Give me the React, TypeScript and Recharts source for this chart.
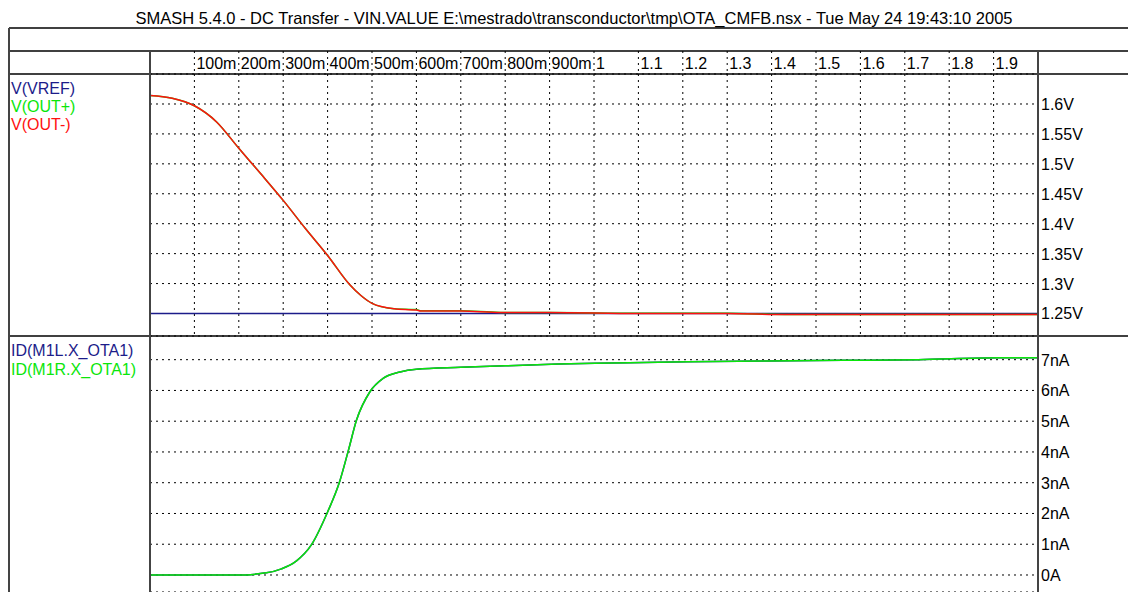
import { CartesianGrid, Line, LineChart, XAxis, YAxis } from "recharts";

const FONT = "'Liberation Sans', Arial, sans-serif";

// DC sweep of VIN.VALUE (V)
const sweepTop = [0, 0.05, 0.1, 0.15, 0.2, 0.25, 0.3, 0.35, 0.4, 0.45, 0.475, 0.5, 0.55, 0.6, 0.61, 0.7, 0.79, 0.9, 1.1, 1.3, 1.43, 1.6, 1.8, 1.9, 2.0];
const vVref = [1.25, 1.25, 1.25, 1.25, 1.25, 1.25, 1.25, 1.25, 1.25, 1.25, 1.25, 1.25, 1.25, 1.25, 1.25, 1.25, 1.25, 1.25, 1.25, 1.25, 1.25, 1.25, 1.25, 1.25, 1.25];
const vOutPlus = [1.614, 1.6095, 1.597, 1.57, 1.526, 1.483, 1.439, 1.392, 1.347, 1.298, 1.28, 1.267, 1.258, 1.2565, 1.2545, 1.2545, 1.2518, 1.2518, 1.2502, 1.2502, 1.2483, 1.2483, 1.2483, 1.2483, 1.2483];
const vOutMinus = [1.614, 1.6095, 1.597, 1.57, 1.526, 1.483, 1.439, 1.392, 1.347, 1.298, 1.28, 1.267, 1.258, 1.2557, 1.254, 1.254, 1.2517, 1.2517, 1.25, 1.25, 1.2483, 1.2483, 1.2483, 1.2483, 1.2483];

const sweepBottom = [0, 0.1, 0.2, 0.262, 0.296, 0.33, 0.363, 0.4, 0.427, 0.447, 0.465, 0.495, 0.525, 0.563, 0.6, 0.7, 0.8, 0.92, 1.04, 1.21, 1.39, 1.56, 1.73, 1.91, 2.0];
const idM1L = [0, 0, 0, 0.07, 0.2, 0.46, 0.97, 2.05, 3.03, 4.06, 5.03, 5.95, 6.39, 6.6, 6.69, 6.75, 6.8, 6.86, 6.89, 6.93, 6.96, 6.98, 7.0, 7.06, 7.06];
const idM1R = [0, 0, 0, 0.07, 0.2, 0.46, 0.97, 2.05, 3.03, 4.06, 5.03, 5.95, 6.39, 6.6, 6.69, 6.75, 6.8, 6.86, 6.89, 6.93, 6.96, 6.98, 7.0, 7.06, 7.06];

const xTicks = [0.1, 0.2, 0.3, 0.4, 0.5, 0.6, 0.7, 0.8, 0.9, 1.0, 1.1, 1.2, 1.3, 1.4, 1.5, 1.6, 1.7, 1.8, 1.9];
const xTickLabels = ["100m", "200m", "300m", "400m", "500m", "600m", "700m", "800m", "900m", "1", "1.1", "1.2", "1.3", "1.4", "1.5", "1.6", "1.7", "1.8", "1.9"];
const vTicks = [1.25, 1.3, 1.35, 1.4, 1.45, 1.5, 1.55, 1.6];
const vTickLabels = ["1.25V", "1.3V", "1.35V", "1.4V", "1.45V", "1.5V", "1.55V", "1.6V"];
const iTicks = [0, 1, 2, 3, 4, 5, 6, 7];
const iTickLabels = ["0A", "1nA", "2nA", "3nA", "4nA", "5nA", "6nA", "7nA"];

const BLUE = "#1c1c8a";
const GREEN = "#0ae60a";
const RED = "#ff1010";

const topLegend = [
  { name: "V(VREF)", color: BLUE },
  { name: "V(OUT+)", color: GREEN },
  { name: "V(OUT-)", color: RED },
];
const bottomLegend = [
  { name: "ID(M1L.X_OTA1)", color: BLUE },
  { name: "ID(M1R.X_OTA1)", color: GREEN },
];

const title =
  "SMASH 5.4.0 - DC Transfer - VIN.VALUE E:\\mestrado\\transconductor\\tmp\\OTA_CMFB.nsx - Tue May 24 19:43:10 2005";

const topData = sweepTop.map((x, i) => ({ x, vref: vVref[i], outp: vOutPlus[i], outm: vOutMinus[i] }));
const bottomData = sweepBottom.map((x, i) => ({ x, m1l: idM1L[i], m1r: idM1R[i] }));

function labelFor(ticks: number[], labels: string[], v: number) {
  const i = ticks.findIndex((t) => Math.abs(t - v) < 1e-6);
  return i >= 0 ? labels[i] : String(v);
}

function XTick(props: any) {
  const { x, payload } = props;
  return (
    <text x={x + 2} y={18} fontSize={16} fontFamily={FONT} fill="#000" textAnchor="start">
      {labelFor(xTicks, xTickLabels, payload.value)}
    </text>
  );
}

function makeYTick(ticks: number[], labels: string[]) {
  return (props: any) => {
    const { y, payload } = props;
    return (
      <text x={1041} y={y + 6} fontSize={16} fontFamily={FONT} fill="#000" textAnchor="start">
        {labelFor(ticks, labels, payload.value)}
      </text>
    );
  };
}

const gridProps = { stroke: "#000", strokeDasharray: "2 4", strokeWidth: 1 };

export default function App() {
  return (
    <div
      style={{
        position: "fixed",
        left: 0,
        top: 0,
        width: 1128,
        height: 592,
        overflow: "hidden",
        background: "#fff",
        fontFamily: FONT,
      }}
    >
      <div
        style={{
          position: "absolute",
          left: 0,
          width: 1148,
          top: 8,
          textAlign: "center",
          fontSize: 16.5,
          lineHeight: "20px",
          color: "#000",
          whiteSpace: "nowrap",
        }}
      >
        {title}
      </div>

      <div style={{ position: "absolute", left: 0, top: 51 }}>
        <LineChart width={1128} height={285} data={topData} margin={{ top: 0, right: 0, bottom: 0, left: 150 }}>
          <CartesianGrid {...gridProps} />
          <XAxis
            dataKey="x"
            type="number"
            orientation="top"
            domain={[0, 2]}
            ticks={xTicks}
            height={23}
            tickSize={23}
            axisLine={false}
            tickLine={{ stroke: "#000", strokeDasharray: "2 4" }}
            tick={<XTick />}
            allowDataOverflow
          />
          <YAxis
            orientation="right"
            width={90}
            domain={[1.2124, 1.6501]}
            ticks={vTicks}
            axisLine={false}
            tickLine={false}
            tick={makeYTick(vTicks, vTickLabels)}
            allowDataOverflow
          />
          <Line type="monotone" dataKey="vref" stroke={BLUE} strokeWidth={1.5} dot={false} isAnimationActive={false} />
          <Line type="monotone" dataKey="outp" stroke={GREEN} strokeWidth={1.5} dot={false} isAnimationActive={false} />
          <Line type="monotone" dataKey="outm" stroke={RED} strokeWidth={1.5} dot={false} isAnimationActive={false} />
        </LineChart>
      </div>

      <div style={{ position: "absolute", left: 0, top: 336 }}>
        <LineChart width={1128} height={256} data={bottomData} margin={{ top: 0, right: 0, bottom: 0, left: 150 }}>
          <CartesianGrid {...gridProps} />
          <XAxis dataKey="x" type="number" domain={[0, 2]} ticks={xTicks} height={0} axisLine={false} tickLine={false} tick={false} />
          <YAxis
            orientation="right"
            width={90}
            domain={[-0.553, 7.77]}
            ticks={iTicks}
            axisLine={false}
            tickLine={false}
            tick={makeYTick(iTicks, iTickLabels)}
            allowDataOverflow
          />
          <Line type="monotone" dataKey="m1l" stroke={BLUE} strokeWidth={1.5} dot={false} isAnimationActive={false} />
          <Line type="monotone" dataKey="m1r" stroke={GREEN} strokeWidth={1.5} dot={false} isAnimationActive={false} />
        </LineChart>
      </div>

      {topLegend.map((s, i) => (
        <div
          key={s.name}
          style={{ position: "absolute", left: 11, top: 80 + i * 18, fontSize: 16, lineHeight: "18px", color: s.color }}
        >
          {s.name}
        </div>
      ))}
      {bottomLegend.map((s, i) => (
        <div
          key={s.name}
          style={{ position: "absolute", left: 11, top: 342 + i * 19, fontSize: 16, lineHeight: "18px", color: s.color }}
        >
          {s.name}
        </div>
      ))}

      <svg width={1128} height={592} style={{ position: "absolute", left: 0, top: 0, pointerEvents: "none" }}>
        <g stroke="#000" strokeWidth={1.5}>
          <line x1={9} y1={28} x2={1128} y2={28} />
          <line x1={9} y1={51} x2={1128} y2={51} />
          <line x1={9} y1={74} x2={1128} y2={74} />
          <line x1={9} y1={336} x2={1128} y2={336} />
        </g>
        <g stroke="#444" strokeWidth={2}>
          <line x1={9} y1={28} x2={9} y2={592} />
          <line x1={150} y1={51} x2={150} y2={592} />
          <line x1={1038} y1={51} x2={1038} y2={592} />
        </g>
      </svg>
    </div>
  );
}
